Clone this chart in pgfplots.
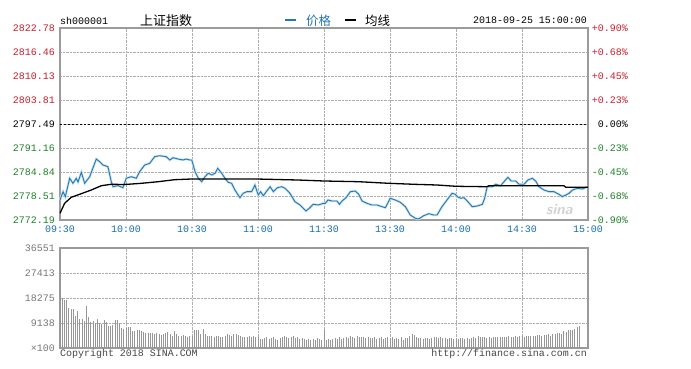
\documentclass[border=0pt]{standalone}
\usepackage{fontspec}
\setmainfont{Liberation Sans}
\setmonofont{Liberation Mono}
\newfontfamily\cjk{Noto Sans CJK SC}
\usepackage{pgfplots}
\pgfplotsset{compat=1.18}
\definecolor{upred}{RGB}{200,30,45}
\definecolor{dngreen}{RGB}{30,130,40}
\definecolor{tblue}{RGB}{25,110,170}
\definecolor{pblue}{RGB}{35,120,175}
\definecolor{halo}{RGB}{200,226,242}
\definecolor{boxgray}{RGB}{155,155,155}
\definecolor{gridgray}{RGB}{175,175,175}
\definecolor{volgray}{RGB}{150,150,150}
\definecolor{lblgray}{RGB}{120,120,120}
\definecolor{txtgray}{RGB}{70,70,70}

\pgfplotstableread{
m p
0 2777.46
1.4 2779.65
2.4 2778.33
4.4 2783.18
5.9 2781.86
7.4 2783.18
8.2 2782.20
9.7 2784.76
11.2 2781.86
13.5 2783.60
16.5 2788.26
18.0 2787.55
19.5 2786.68
21.8 2786.23
23.3 2782.28
24.1 2780.96
26.4 2781.23
28.6 2780.70
30.1 2783.18
32.4 2783.60
34.7 2783.18
36.2 2784.92
38.5 2786.68
40.8 2787.13
43.0 2788.87
45.3 2789.13
48.3 2788.87
49.9 2788.00
51.4 2788.61
53.6 2788.26
55.9 2788.00
57.4 2788.26
59.0 2788.00
59.9 2788.00
61.4 2784.92
62.9 2783.18
64.4 2782.28
65.9 2783.60
67.4 2784.50
69.0 2784.05
70.5 2784.50
71.7 2785.81
73.5 2784.50
75.0 2783.18
76.5 2782.12
78.0 2781.86
79.5 2780.09
81.8 2778.07
83.3 2779.23
84.9 2779.65
87.1 2779.65
88.6 2781.41
90.1 2778.78
91.2 2779.65
92.4 2778.59
94.0 2779.83
95.5 2780.96
97.0 2779.65
98.8 2780.70
100.8 2780.96
102.3 2780.54
104.5 2779.23
106.8 2777.01
109.1 2776.14
111.8 2774.56
113.6 2775.43
115.1 2776.33
117.4 2776.14
119.7 2776.59
120.6 2776.59
121.8 2777.46
123.6 2777.20
125.9 2777.20
127.0 2776.33
128.2 2777.20
130.0 2778.07
132.0 2779.65
134.2 2779.83
135.8 2778.96
137.3 2777.20
139.5 2776.59
141.8 2776.14
144.1 2776.14
146.4 2775.69
147.9 2775.43
150.1 2777.91
152.4 2777.46
154.7 2776.85
157.0 2775.69
159.2 2773.51
161.5 2772.64
163.0 2772.45
165.3 2773.32
167.6 2773.85
169.9 2773.51
171.4 2773.51
173.6 2775.69
175.9 2777.46
178.2 2779.23
179.7 2778.96
180.6 2778.33
182.1 2777.91
183.6 2778.07
185.1 2777.20
187.4 2775.69
189.7 2775.88
192.0 2776.33
193.0 2777.91
194.2 2780.96
196.5 2780.96
198.0 2781.60
200.3 2781.23
201.8 2782.28
203.6 2783.44
205.1 2782.47
207.1 2782.47
208.6 2781.60
210.9 2781.60
212.7 2782.73
214.7 2783.18
216.2 2782.47
217.7 2780.96
220.0 2780.09
222.3 2779.65
224.5 2779.65
226.8 2778.96
228.3 2778.33
229.9 2778.78
231.4 2779.23
232.9 2780.09
235.1 2780.54
237.4 2780.36
240 2780.96
}\price

\pgfplotstableread{
m a
0 2773.96
2.1 2776.59
5.1 2778.17
8.9 2778.96
14.2 2780.09
18.8 2781.23
23.3 2781.60
29.4 2781.54
37.0 2781.86
44.6 2782.28
52.1 2782.81
59.7 2782.99
89.4 2782.99
108.0 2782.73
119.8 2782.47
135.8 2782.28
149.4 2781.86
160.8 2781.60
171.4 2781.41
180.0 2781.07
194.0 2780.96
195.0 2781.23
229.0 2781.23
230.0 2780.80
240 2780.80
}\avg

\pgfplotstableread{
m v
0 36551
1 18275
2 17400
3 17700
4 14600
5 14400
6 14400
7 11800
8 13650
9 10600
10 10600
11 9750
12 15230
13 11330
14 9380
15 9750
16 9140
17 10600
18 9140
19 8770
20 10110
21 9380
22 8160
23 7920
24 8530
25 10110
26 10360
27 9140
28 7310
29 6940
30 7310
31 7680
32 7680
33 6090
34 6090
35 6700
36 6460
37 6090
38 5730
39 5480
40 5480
41 5480
42 5480
43 5240
44 5480
45 5240
46 4870
47 5240
48 5480
49 5730
50 5240
51 4510
52 6090
53 5240
54 4510
55 4260
56 4870
57 4510
58 4020
59 4260
60 4510
61 6460
62 6700
63 6700
64 5240
65 6940
66 5240
67 4510
68 4260
69 4260
70 4020
71 4510
72 4260
73 4020
74 3900
75 4510
76 5000
77 4870
78 4510
79 5240
80 5240
81 4870
82 4510
83 4020
84 3900
85 3900
86 4260
87 3900
88 4510
89 4020
90 3900
91 3300
92 3300
93 3650
94 4020
95 3300
96 3650
97 3900
98 3300
99 3050
100 3650
101 4020
102 4260
103 3900
104 3650
105 3900
106 4260
107 3650
108 3900
109 3300
110 3650
111 3300
112 3050
113 3300
114 3050
115 3300
116 3050
117 3650
118 3300
119 3050
120 6460
121 3050
122 3300
123 3050
124 3300
125 3650
126 3300
127 3900
128 3300
129 3650
130 4020
131 3650
132 4260
133 3900
134 3650
135 4260
136 4020
137 3900
138 3900
139 3650
140 3900
141 3650
142 3650
143 3900
144 3300
145 3650
146 4020
147 3300
148 3650
149 3900
150 3650
151 4020
152 3300
153 3650
154 3300
155 3900
156 3050
157 3650
158 3650
159 4510
160 5240
161 4870
162 3900
163 3650
164 3650
165 3300
166 3650
167 3650
168 3300
169 3650
170 3900
171 3900
172 3650
173 3900
174 3650
175 3650
176 3300
177 3650
178 3650
179 3300
180 3650
181 3300
182 3650
183 3650
184 3300
185 3650
186 3300
187 3650
188 3900
189 3650
190 4260
191 4020
192 3900
193 4020
194 3650
195 3900
196 3650
197 4020
198 3900
199 3900
200 3900
201 4020
202 3900
203 4020
204 4260
205 3900
206 4020
207 4260
208 3900
209 4260
210 4260
211 4020
212 4260
213 4510
214 4260
215 4510
216 4260
217 4870
218 4870
219 4510
220 4870
221 4870
222 5240
223 4510
224 5240
225 5240
226 5480
227 5480
228 5240
229 6090
230 5730
231 6460
232 6460
233 6700
234 7000
235 7500
236 8160
237 250
}\vol

\begin{document}
\begin{tikzpicture}[x=1bp,y=1bp]
\fill[white] (0,0) rectangle (691,368);
\path[use as bounding box] (0,0) rectangle (691,368);

% header texts
\node[anchor=west,inner sep=0pt] at (60,347) {\ttfamily\fontsize{10}{12}\selectfont sh000001};
\node[anchor=west,inner sep=0pt] at (140,347.5) {\cjk\fontsize{13}{14}\selectfont 上证指数};
\draw[pblue,line width=2.5bp] (285,348) -- (296,348);
\node[anchor=west,inner sep=0pt,text=pblue] at (306,347.5) {\cjk\fontsize{12.5}{14}\selectfont 价格};
\draw[black,line width=2.5bp] (345,348) -- (356,348);
\node[anchor=west,inner sep=0pt] at (365,347.5) {\cjk\fontsize{12.5}{14}\selectfont 均线};
\node[anchor=east,inner sep=0pt] at (587,347.5) {\ttfamily\fontsize{10}{12}\selectfont 2018-09-25 15:00:00};

% right-hand percentage labels (axis top at y=340, bottom at y=148, 24bp per step)
\tikzset{pct/.style={anchor=east, inner sep=0pt, font=\ttfamily\fontsize{10}{12}\selectfont}}
\node[pct,text=upred] at (628,340) {+0.90\%};
\node[pct,text=upred] at (628,316) {+0.68\%};
\node[pct,text=upred] at (628,292) {+0.45\%};
\node[pct,text=upred] at (628,268) {+0.23\%};
\node[pct,text=black] at (628,244) {0.00\%};
\node[pct,text=dngreen] at (628,220) {-0.23\%};
\node[pct,text=dngreen] at (628,196) {-0.45\%};
\node[pct,text=dngreen] at (628,172) {-0.68\%};
\node[pct,text=dngreen] at (628,148) {-0.90\%};

% price axis
\begin{axis}[
  at={(60bp,148bp)}, anchor=south west, scale only axis,
  width=528bp, height=192bp,
  xmin=0, xmax=240, ymin=2772.19, ymax=2822.78,
  xtick={0,30,60,90,120,150,180,210,240},
  xticklabels={09:30,10:00,10:30,11:00,11:30,13:30,14:00,14:30,15:00},
  ytick={2772.19,2778.51,2784.84,2791.16,2797.49,2803.81,2810.13,2816.46,2822.78},
  yticklabels={{\color{dngreen}2772.19},{\color{dngreen}2778.51},{\color{dngreen}2784.84},{\color{dngreen}2791.16},{\color{black}2797.49},{\color{upred}2803.81},{\color{upred}2810.13},{\color{upred}2816.46},{\color{upred}2822.78}},
  xticklabel style={font=\ttfamily\fontsize{10}{12}\selectfont, text=tblue, inner sep=0pt, anchor=north, yshift=-6bp},
  yticklabel style={font=\ttfamily\fontsize{10}{12}\selectfont, inner sep=0pt, anchor=east, xshift=-5bp},
  major tick length=0pt,
  grid=major, grid style={gridgray, densely dotted, line width=0.8bp},
  axis line style={boxgray, line width=1.2bp},
  clip=false,
]
\addplot[black, line width=0.9bp, dash pattern=on 2bp off 2bp] coordinates {(0,2797.49) (240,2797.49)};
\addplot[halo, line width=2.4bp] table[x=m,y=p] {\price};
\addplot[pblue, line width=0.9bp] table[x=m,y=p] {\price};
\addplot[black, line width=1.3bp] table[x=m,y=a] {\avg};
\node[anchor=center, text=gray!35, font=\sffamily\bfseries\itshape\fontsize{15}{16}\selectfont] at (axis cs:227,2774.9) {sina};
\end{axis}

% volume axis
\begin{axis}[
  at={(60bp,20bp)}, anchor=south west, scale only axis,
  width=528bp, height=100bp,
  xmin=0, xmax=240, ymin=0, ymax=36551,
  scaled y ticks=false,
  xtick={0,30,60,90,120,150,180,210,240},
  xticklabels={},
  ytick={0,9138,18275,27413,36551},
  yticklabels={×100,9138,18275,27413,36551},
  yticklabel style={font=\ttfamily\fontsize{10}{12}\selectfont, text=lblgray, inner sep=0pt, anchor=east, xshift=-5bp},
  major tick length=0pt,
  grid=major, grid style={gridgray, densely dotted, line width=0.8bp},
  axis line style={boxgray, line width=1.2bp},
  clip=false,
]
\addplot[ycomb, volgray, line width=0.9bp, mark=none] table[x=m,y=v] {\vol};
\end{axis}

\node[anchor=west,inner sep=0pt,text=txtgray] at (60,14) {\ttfamily\fontsize{10}{12}\selectfont Copyright 2018 SINA.COM};
\node[anchor=east,inner sep=0pt,text=txtgray] at (587,14) {\ttfamily\fontsize{10}{12}\selectfont http://finance.sina.com.cn};
\end{tikzpicture}
\end{document}
